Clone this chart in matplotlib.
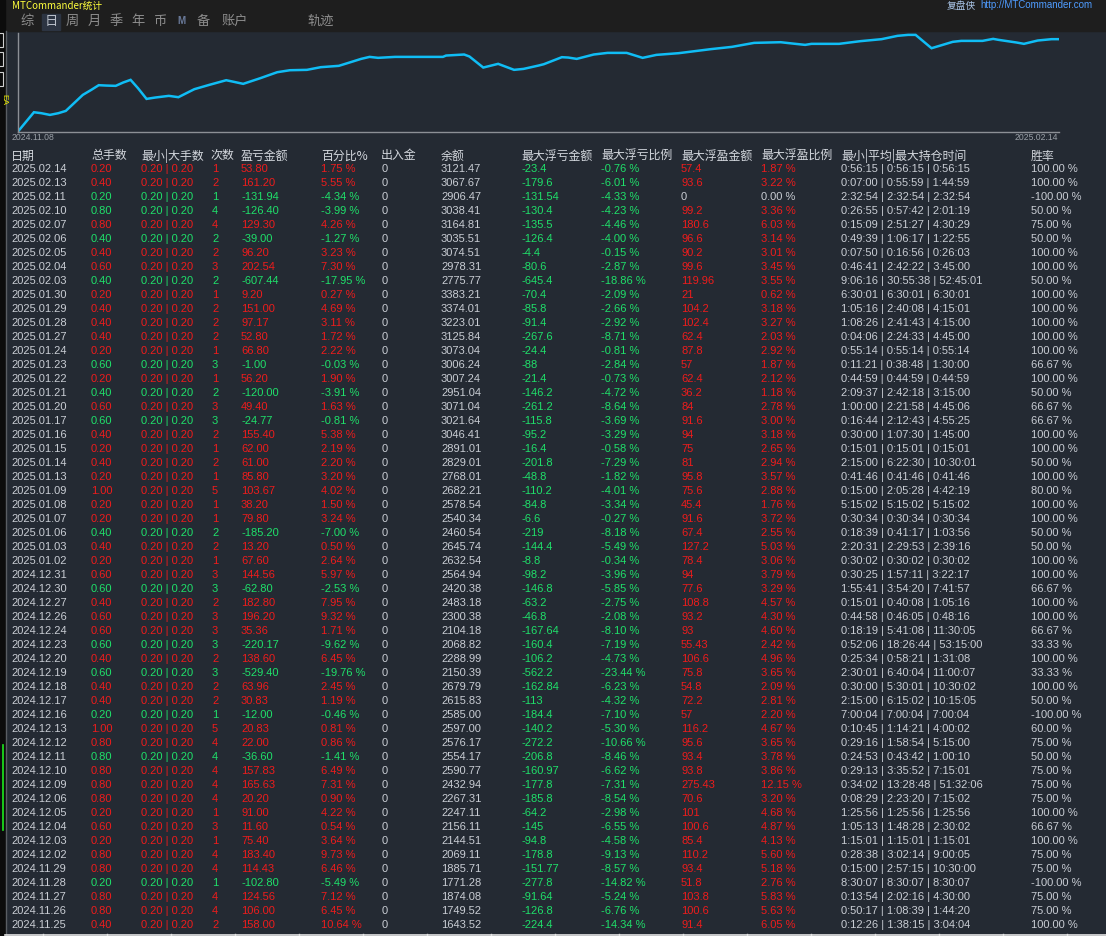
import matplotlib
matplotlib.use("Agg")
import matplotlib.pyplot as plt
from matplotlib.patches import Rectangle

# ---- daily table (newest first) ----
dates = ["2025.02.14", "2025.02.13", "2025.02.11", "2025.02.10", "2025.02.07", "2025.02.06",
         "2025.02.05", "2025.02.04", "2025.02.03", "2025.01.30", "2025.01.29", "2025.01.28",
         "2025.01.27", "2025.01.24", "2025.01.23", "2025.01.22", "2025.01.21", "2025.01.20",
         "2025.01.17", "2025.01.16", "2025.01.15", "2025.01.14", "2025.01.13", "2025.01.09",
         "2025.01.08", "2025.01.07", "2025.01.06", "2025.01.03", "2025.01.02", "2024.12.31",
         "2024.12.30", "2024.12.27", "2024.12.26", "2024.12.24", "2024.12.23", "2024.12.20",
         "2024.12.19", "2024.12.18", "2024.12.17", "2024.12.16", "2024.12.13", "2024.12.12",
         "2024.12.11", "2024.12.10", "2024.12.09", "2024.12.06", "2024.12.05", "2024.12.04",
         "2024.12.03", "2024.12.02", "2024.11.29", "2024.11.28", "2024.11.27", "2024.11.26",
         "2024.11.25"]
lots = [0.2, 0.4, 0.2, 0.8, 0.8, 0.4, 0.4, 0.6, 0.4, 0.2, 0.4, 0.4, 0.4, 0.2, 0.6, 0.2, 0.4, 0.6,
        0.6, 0.4, 0.2, 0.4, 0.2, 1.0, 0.2, 0.2, 0.4, 0.4, 0.2, 0.6, 0.6, 0.4, 0.6, 0.6, 0.6, 0.4,
        0.6, 0.4, 0.4, 0.2, 1.0, 0.8, 0.8, 0.8, 0.8, 0.8, 0.2, 0.6, 0.2, 0.8, 0.8, 0.2, 0.8, 0.8,
        0.4]
trades = [1, 2, 1, 4, 4, 2, 2, 3, 2, 1, 2, 2, 2, 1, 3, 1, 2, 3, 3, 2, 1, 2, 1, 5, 1, 1, 2, 2, 1,
          3, 3, 2, 3, 3, 3, 2, 3, 2, 2, 1, 5, 4, 4, 4, 4, 4, 1, 3, 1, 4, 4, 1, 4, 4, 2]
profit = [53.80, 161.20, -131.94, -126.40, 129.30, -39.00, 96.20, 202.54, -607.44, 9.20,
          151.00, 97.17, 52.80, 66.80, -1.00, 56.20, -120.00, 49.40, -24.77, 155.40, 62.00,
          61.00, 85.80, 103.67, 38.20, 79.80, -185.20, 13.20, 67.60, 144.56, -62.80, 182.80,
          196.20, 35.36, -220.17, 138.60, -529.40, 63.96, 30.83, -12.00, 20.83, 22.00, -36.60,
          157.83, 165.63, 20.20, 91.00, 11.60, 75.40, 183.40, 114.43, -102.80, 124.56, 106.00,
          158.00]
pct = [1.75, 5.55, -4.34, -3.99, 4.26, -1.27, 3.23, 7.30, -17.95, 0.27, 4.69, 3.11, 1.72, 2.22,
       -0.03, 1.90, -3.91, 1.63, -0.81, 5.38, 2.19, 2.20, 3.20, 4.02, 1.50, 3.24, -7.00, 0.50,
       2.64, 5.97, -2.53, 7.95, 9.32, 1.71, -9.62, 6.45, -19.76, 2.45, 1.19, -0.46, 0.81, 0.86,
       -1.41, 6.49, 7.31, 0.90, 4.22, 0.54, 3.64, 9.73, 6.46, -5.49, 7.12, 6.45, 10.64]
balance = [3121.47, 3067.67, 2906.47, 3038.41, 3164.81, 3035.51, 3074.51, 2978.31, 2775.77,
           3383.21, 3374.01, 3223.01, 3125.84, 3073.04, 3006.24, 3007.24, 2951.04, 3071.04,
           3021.64, 3046.41, 2891.01, 2829.01, 2768.01, 2682.21, 2578.54, 2540.34, 2460.54,
           2645.74, 2632.54, 2564.94, 2420.38, 2483.18, 2300.38, 2104.18, 2068.82, 2288.99,
           2150.39, 2679.79, 2615.83, 2585.00, 2597.00, 2576.17, 2554.17, 2590.77, 2432.94,
           2267.31, 2247.11, 2156.11, 2144.51, 2069.11, 1885.71, 1771.28, 1874.08, 1749.52,
           1643.52]
max_loss = [-23.4, -179.6, -131.54, -130.4, -135.5, -126.4, -4.4, -80.6, -645.4, -70.4, -85.8,
            -91.4, -267.6, -24.4, -88, -21.4, -146.2, -261.2, -115.8, -95.2, -16.4, -201.8,
            -48.8, -110.2, -84.8, -6.6, -219, -144.4, -8.8, -98.2, -146.8, -63.2, -46.8,
            -167.64, -160.4, -106.2, -562.2, -162.84, -113, -184.4, -140.2, -272.2, -206.8,
            -160.97, -177.8, -185.8, -64.2, -145, -94.8, -178.8, -151.77, -277.8, -91.64,
            -126.8, -224.4]
max_loss_pct = [-0.76, -6.01, -4.33, -4.23, -4.46, -4.00, -0.15, -2.87, -18.86, -2.09, -2.66,
                -2.92, -8.71, -0.81, -2.84, -0.73, -4.72, -8.64, -3.69, -3.29, -0.58, -7.29,
                -1.82, -4.01, -3.34, -0.27, -8.18, -5.49, -0.34, -3.96, -5.85, -2.75, -2.08,
                -8.10, -7.19, -4.73, -23.44, -6.23, -4.32, -7.10, -5.30, -10.66, -8.46, -6.62,
                -7.31, -8.54, -2.98, -6.55, -4.58, -9.13, -8.57, -14.82, -5.24, -6.76, -14.34]
max_gain = [57.4, 93.6, 0, 99.2, 180.6, 96.6, 90.2, 99.6, 119.96, 21, 104.2, 102.4, 62.4, 87.8,
            57, 62.4, 36.2, 84, 91.6, 94, 75, 81, 95.8, 75.6, 45.4, 91.6, 67.4, 127.2, 78.4, 94,
            77.6, 108.8, 93.2, 93, 55.43, 106.6, 75.8, 54.8, 72.2, 57, 116.2, 95.6, 93.4, 93.8,
            275.43, 70.6, 101, 100.6, 85.4, 110.2, 93.4, 51.8, 103.8, 100.6, 91.4]
max_gain_pct = [1.87, 3.22, 0.00, 3.36, 6.03, 3.14, 3.01, 3.45, 3.55, 0.62, 3.18, 3.27, 2.03,
                2.92, 1.87, 2.12, 1.18, 2.78, 3.00, 3.18, 2.65, 2.94, 3.57, 2.88, 1.76, 3.72,
                2.55, 5.03, 3.06, 3.79, 3.29, 4.57, 4.30, 4.60, 2.42, 4.96, 3.65, 2.09, 2.81,
                2.20, 4.67, 3.65, 3.78, 3.86, 12.15, 3.20, 4.68, 4.87, 4.13, 5.60, 5.18, 2.76,
                5.83, 5.63, 6.05]
hold_times = [
    ("0:56:15", "0:56:15", "0:56:15"), ("0:07:00", "0:55:59", "1:44:59"),
    ("2:32:54", "2:32:54", "2:32:54"), ("0:26:55", "0:57:42", "2:01:19"),
    ("0:15:09", "2:51:27", "4:30:29"), ("0:49:39", "1:06:17", "1:22:55"),
    ("0:07:50", "0:16:56", "0:26:03"), ("0:46:41", "2:42:22", "3:45:00"),
    ("9:06:16", "30:55:38", "52:45:01"), ("6:30:01", "6:30:01", "6:30:01"),
    ("1:05:16", "2:40:08", "4:15:01"), ("1:08:26", "2:41:43", "4:15:00"),
    ("0:04:06", "2:24:33", "4:45:00"), ("0:55:14", "0:55:14", "0:55:14"),
    ("0:11:21", "0:38:48", "1:30:00"), ("0:44:59", "0:44:59", "0:44:59"),
    ("2:09:37", "2:42:18", "3:15:00"), ("1:00:00", "2:21:58", "4:45:06"),
    ("0:16:44", "2:12:43", "4:55:25"), ("0:30:00", "1:07:30", "1:45:00"),
    ("0:15:01", "0:15:01", "0:15:01"), ("2:15:00", "6:22:30", "10:30:01"),
    ("0:41:46", "0:41:46", "0:41:46"), ("0:15:00", "2:05:28", "4:42:19"),
    ("5:15:02", "5:15:02", "5:15:02"), ("0:30:34", "0:30:34", "0:30:34"),
    ("0:18:39", "0:41:17", "1:03:56"), ("2:20:31", "2:29:53", "2:39:16"),
    ("0:30:02", "0:30:02", "0:30:02"), ("0:30:25", "1:57:11", "3:22:17"),
    ("1:55:41", "3:54:20", "7:41:57"), ("0:15:01", "0:40:08", "1:05:16"),
    ("0:44:58", "0:46:05", "0:48:16"), ("0:18:19", "5:41:08", "11:30:05"),
    ("0:52:06", "18:26:44", "53:15:00"), ("0:25:34", "0:58:21", "1:31:08"),
    ("2:30:01", "6:40:04", "11:00:07"), ("0:30:00", "5:30:01", "10:30:02"),
    ("2:15:00", "6:15:02", "10:15:05"), ("7:00:04", "7:00:04", "7:00:04"),
    ("0:10:45", "1:14:21", "4:00:02"), ("0:29:16", "1:58:54", "5:15:00"),
    ("0:24:53", "0:43:42", "1:00:10"), ("0:29:13", "3:35:52", "7:15:01"),
    ("0:34:02", "13:28:48", "51:32:06"), ("0:08:29", "2:23:20", "7:15:02"),
    ("1:25:56", "1:25:56", "1:25:56"), ("1:05:13", "1:48:28", "2:30:02"),
    ("1:15:01", "1:15:01", "1:15:01"), ("0:28:38", "3:02:14", "9:00:05"),
    ("0:15:00", "2:57:15", "10:30:00"), ("8:30:07", "8:30:07", "8:30:07"),
    ("0:13:54", "2:02:16", "4:30:00"), ("0:50:17", "1:08:39", "1:44:20"),
    ("0:12:26", "1:38:15", "3:04:04")]
win_rate = [100, 100, -100, 50, 75, 50, 100, 100, 50, 100, 100, 100, 100, 100, 66.67, 100, 50,
            66.67, 66.67, 100, 100, 50, 100, 80, 100, 100, 50, 50, 100, 100, 66.67, 100, 100,
            66.67, 33.33, 100, 33.33, 100, 50, -100, 60, 75, 50, 75, 75, 75, 100, 66.67, 100, 75,
            75, -100, 75, 75, 100]

headers = ["日期", "总手数", "最小|大手数", "次数", "盈亏金额", "百分比%", "出入金", "余额",
           "最大浮亏金额", "最大浮亏比例", "最大浮盈金额", "最大浮盈比例", "最小|平均|最大持仓时间", "胜率"]

# ---- trajectory curve (days since 2024.11.08, cumulative %) ----
curve_day = [0, 1.5, 2.2, 3.0, 3.8, 4.5, 6.1, 6.9, 7.6, 8.3, 9.2, 9.9, 10.6, 11.3, 12.1, 12.9,
             14.2, 15.1, 16.6, 18.0, 19.6, 20.2, 21.2, 22.8, 24.4, 25.6, 27.2, 28.5, 30.2, 31.1,
             32.3, 33.1, 33.9, 35.5, 40.0, 40.3, 42.0, 42.5, 43.8, 45.2, 46.7, 47.6, 49.0, 49.5,
             51.2, 51.8, 52.6, 54.2, 55.5, 57.3, 58.8, 60.1, 62.2, 65.2, 67.2, 69.3, 71.8, 72.6,
             74.1, 74.7, 77.3, 79.3, 81.3, 82.8, 83.8, 84.5, 86.0, 88.0, 88.8, 90.8, 91.8, 92.3,
             94.0, 94.7, 96.0, 97.3, 98.0]
curve_val = [0, 26.0, 24.7, 22.4, 24.7, 27.8, 49.4, 56.2, 62.5, 62.0, 61.6, 66.1, 69.7, 58.4,
             44.0, 45.8, 48.1, 46.3, 57.1, 62.9, 69.2, 67.4, 64.3, 71.9, 80.0, 82.7, 83.2, 86.8,
             88.6, 92.6, 98.0, 100.7, 99.4, 100.7, 100.7, 102.5, 103.9, 101.2, 86.3, 91.3, 83.2,
             84.5, 89.0, 90.8, 100.3, 99.8, 98.0, 103.9, 106.1, 106.1, 99.4, 103.4, 105.7, 111.1,
             114.2, 119.6, 120.5, 119.2, 116.9, 118.3, 118.3, 121.9, 124.6, 129.1, 130.4, 130.4,
             112.4, 121.0, 122.3, 122.3, 125.0, 123.7, 120.1, 118.3, 122.8, 124.6, 124.6]
curve_start = "2024.11.08"
curve_end = "2025.02.14"

W, H = 1106, 936
BG = "#242a33"
TOPBG = "#1e1e1e"
RED = "#ee1c1c"
GREEN = "#1fe06a"
WHITE = "#c9cdd4"
CJK = ["Noto Sans CJK SC", "DejaVu Sans"]
NUM = ["Liberation Sans", "DejaVu Sans"]

fig = plt.figure(figsize=(W / 100, H / 100), dpi=100)
fig.patch.set_facecolor(BG)
ax = fig.add_axes([0, 0, 1, 1])
ax.set_xlim(0, W)
ax.set_ylim(H, 0)
ax.axis("off")

# frame pieces
ax.add_patch(Rectangle((0, 0), W, 31, color=TOPBG, zorder=0))
ax.add_patch(Rectangle((0, 0), 5, H, color="#0c0c0c", zorder=1))
ax.plot([5.5, 5.5], [31, 934], color="#5a5e64", lw=1, zorder=2)
ax.plot([2.5, 2.5], [745, 830], color="#1ee81e", lw=1.2, zorder=2)
for yy in (33, 52, 72):
    ax.add_patch(Rectangle((-3, yy), 6, 14, fill=False, ec="#d0d0d0", lw=0.8, zorder=2))
ax.text(0, 100, "EA", color="#e8e800", fontsize=6, rotation=-90, va="center", family=NUM)

# title bar
ax.text(12, 0.5, "MTCommander统计", color="#ffff3c", fontsize=7, va="top", family=CJK)
ax.text(976, 0.5, "复盘侠", color="#a9c4e6", fontsize=7, va="top", ha="right", family=CJK)
ax.text(980, 0.5, "http://MTCommander.com", color="#4f9cff", fontsize=7, va="top",
        ha="left", family=NUM)

# tabs
ax.add_patch(Rectangle((42, 14), 18, 16, color="#2c3442", zorder=1))
tabs = [("综", 27), ("日", 51), ("周", 72), ("月", 94), ("季", 116), ("年", 138), ("币", 160),
        ("备", 203), ("账户", 235), ("轨迹", 321)]
for t, xc in tabs:
    ax.text(xc, 21.5, t, color="#8e8e8e" if t != "日" else "#b8bec8", fontsize=9.5,
            ha="center", va="center", family=CJK)
ax.text(181, 21.5, "M", color="#6a7a9a", fontsize=7, ha="center", va="center",
        family=NUM, weight="bold")

# trajectory chart
x0, x1, y0, y1 = 18, 1059, 131.5, 33
cax = fig.add_axes([x0 / W, 1 - y0 / H, (x1 - x0) / W, (y0 - y1) / H])
cax.set_facecolor("none")
cax.plot(curve_day, curve_val, color="#10bdf5", lw=1.8, solid_joinstyle="miter")
cax.set_xlim(0, 98)
cax.set_ylim(0, (y0 - y1) / 0.741)
cax.set_xticks([])
cax.set_yticks([])
for s in ("top", "right"):
    cax.spines[s].set_visible(False)
for s in ("left", "bottom"):
    cax.spines[s].set_color("#8c9096")
    cax.spines[s].set_linewidth(1)
ax.text(12, 138, curve_start, color="#9aa0a8", fontsize=6.2, va="center", family=NUM)
ax.text(1058, 138, curve_end, color="#9aa0a8", fontsize=6.2, va="center", ha="right", family=NUM)

# table
col_x = [11, 91, 141, 210, 241, 321, 381, 441, 521, 601, 681, 761, 841, 1031]
data_x = [11, 91, 141, 212, 241, 321, 382, 441, 521, 601, 681, 761, 841, 1031]
for h, xx in zip(headers, col_x):
    ax.text(xx, 156, h, color="#d4d8de", fontsize=8.6, va="center", family=CJK)

fs = 8
row0, dy = 169.5, 13.99
for i in range(len(dates)):
    y = row0 + i * dy
    c = RED if profit[i] > 0 else GREEN
    gc = RED if max_gain[i] > 0 else WHITE
    cells = [
        (dates[i], WHITE),
        ("%.2f" % lots[i], c),
        ("0.20 | 0.20", c),
        ("%d" % trades[i], c),
        ("%.2f" % profit[i], c),
        ("%.2f %%" % pct[i], c),
        ("0", WHITE),
        ("%.2f" % balance[i], WHITE),
        ("%g" % max_loss[i], GREEN),
        ("%.2f %%" % max_loss_pct[i], GREEN),
        ("%g" % max_gain[i], gc),
        ("%.2f %%" % max_gain_pct[i], gc),
        (" | ".join(hold_times[i]), WHITE),
        ("%.2f %%" % win_rate[i], WHITE),
    ]
    for (txt, col), xx in zip(cells, data_x):
        ax.text(xx, y, txt, color=col, fontsize=fs, va="center", family=NUM)

# bottom grid edge
ax.plot([5, W], [934.5, 934.5], color="#e6e6e6", lw=1.2)
for k in range(18):
    xx = 43 + 64 * k
    ax.plot([xx, xx], [934, 936], color="#e6e6e6", lw=1)

fig.savefig("out.png", dpi=100, facecolor=fig.get_facecolor())
